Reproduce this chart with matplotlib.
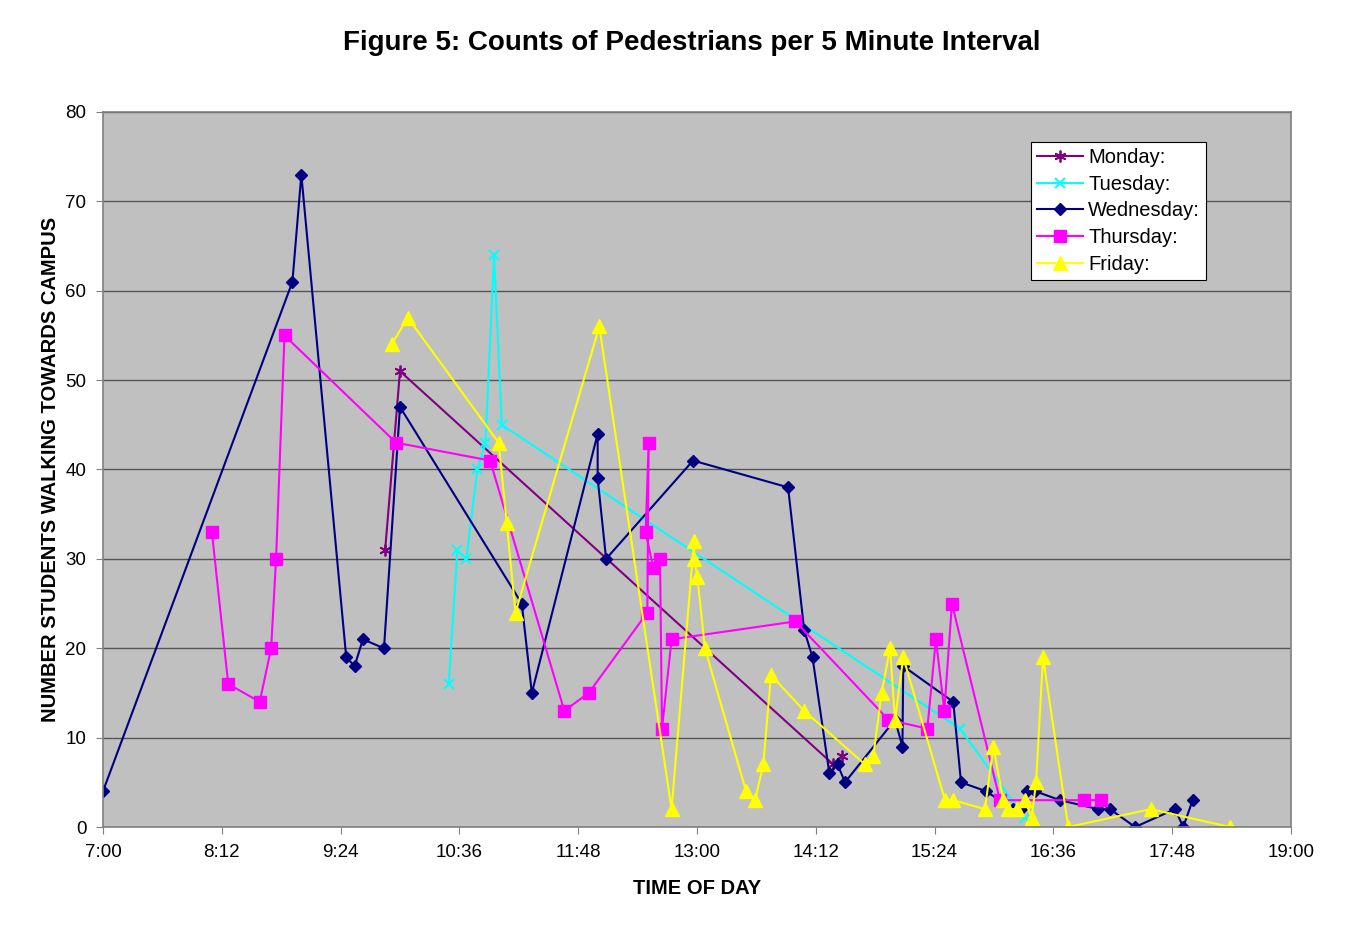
import matplotlib
matplotlib.use('Agg')
import matplotlib.pyplot as plt
import numpy as np

plt.rcParams['font.family'] = ['Liberation Sans', 'DejaVu Sans']

# times are minutes after midnight, values are pedestrian counts
mon_t = [591, 600, 862.6, 868]
mon_v = [31, 51, 7, 8]

tue_t = [629.5, 634.8, 640.2, 646.9, 651.8, 657, 661.7, 939.4, 978.8]
tue_v = [16, 31, 30, 40, 43, 64, 45, 11, 1]

wed_t = [420, 534.8, 540.2, 567.4, 572.5, 577.5, 590.3, 600, 673.8, 679.9, 719.8, 719.8, 724.9,
         777.6, 835.2, 845, 850, 860.2, 865.2, 869.7, 900, 904.5, 905, 935.3, 940, 955.2,
         971.5, 976.2, 980, 985, 1000, 1023.2, 1030.3, 1045.5, 1069.7, 1074.7, 1080.4]
wed_v = [4, 61, 73, 19, 18, 21, 20, 47, 25, 15, 44, 39, 30,
         41, 38, 22, 19, 6, 7, 5, 12, 9, 18, 14, 5, 4,
         2, 2, 4, 4, 3, 2, 2, 0, 2, 0, 3]

thu_t = [486, 495.9, 515, 521.9, 524.9, 530, 597.6, 654.6, 699.6, 714.4, 749.9, 750.7, 748.9,
         753.5, 757.6, 758.8, 764.6, 839.6, 896, 919.6, 924.8, 929.9, 934.5, 963.6, 1014.7, 1024.8]
thu_v = [33, 16, 14, 20, 30, 55, 43, 41, 13, 15, 24, 43, 33,
         29, 30, 11, 21, 23, 12, 11, 21, 13, 25, 3, 3, 3]

fri_t = [595, 604.7, 659.8, 664.7, 670, 720.8, 764.6, 778.2, 778.4, 780.2, 784.8, 809.7, 815.2,
         820.2, 824.8, 845, 881.8, 886.9, 891.9, 897, 900, 905, 930.3, 935.3, 954.5, 959.6,
         965.6, 968.7, 973.8, 978.8, 982.8, 985.5, 989.7, 1005, 1055, 1103]
fri_v = [54, 57, 43, 34, 24, 56, 2, 32, 30, 28, 20, 4, 3,
         7, 17, 13, 7, 8, 15, 20, 12, 19, 3, 3, 2, 9,
         3, 2, 2, 3, 1, 5, 19, 0, 2, 0]

tick_min = np.arange(420, 1141, 72)
tick_lab = ['%d:%02d' % (m // 60, m % 60) for m in tick_min]

fig = plt.figure(figsize=(13.48, 9.44), dpi=100)
ax = fig.add_axes([103 / 1348, 117 / 944, 1188 / 1348, 715 / 944])
ax.set_facecolor('#C0C0C0')

asterisk = (6, 2, 0)
ax.plot(mon_t, mon_v, color='#800080', marker=asterisk, markersize=8.5, mew=1.3, lw=1.5, label='Monday:')
ax.plot(tue_t, tue_v, color='#00FFFF', marker='x', markersize=7.5, mew=1.4, lw=1.5, label='Tuesday:')
ax.plot(wed_t, wed_v, color='#000080', marker='D', markersize=6.5, lw=1.5, label='Wednesday:')
ax.plot(thu_t, thu_v, color='#FF00FF', marker='s', markersize=8, lw=1.5, label='Thursday:')
ax.plot(fri_t, fri_v, color='#FFFF00', marker='^', markersize=9.5, lw=1.5, label='Friday:')

ax.set_xlim(420, 1140)
ax.set_ylim(0, 80)
ax.set_xticks(tick_min)
ax.set_xticklabels(tick_lab)
ax.set_yticks(np.arange(0, 81, 10))
ax.yaxis.grid(True, color='#555555', lw=1)
ax.set_axisbelow(True)
ax.tick_params(labelsize=13.5, length=5, color='#808080', pad=7)
for s in ax.spines.values():
    s.set_color('#808080')
    s.set_linewidth(1.2)

ax.set_xlabel('TIME OF DAY', fontsize=14.5, fontweight='bold', labelpad=13)
ax.set_ylabel('NUMBER STUDENTS WALKING TOWARDS CAMPUS', fontsize=14.5, fontweight='bold', labelpad=4)
fig.suptitle('Figure 5: Counts of Pedestrians per 5 Minute Interval', fontsize=20, fontweight='bold',
             x=0.513, y=0.968)

leg = ax.legend(loc='upper left', bbox_to_anchor=(0.781, 0.958), borderaxespad=0, fontsize=14.5,
                frameon=True, fancybox=False, edgecolor='black', framealpha=1, borderpad=0.3,
                labelspacing=0.38, handlelength=2.3, handletextpad=0.25)
leg.get_frame().set_linewidth(0.8)

fig.savefig('out.png', dpi=100, facecolor='white')
